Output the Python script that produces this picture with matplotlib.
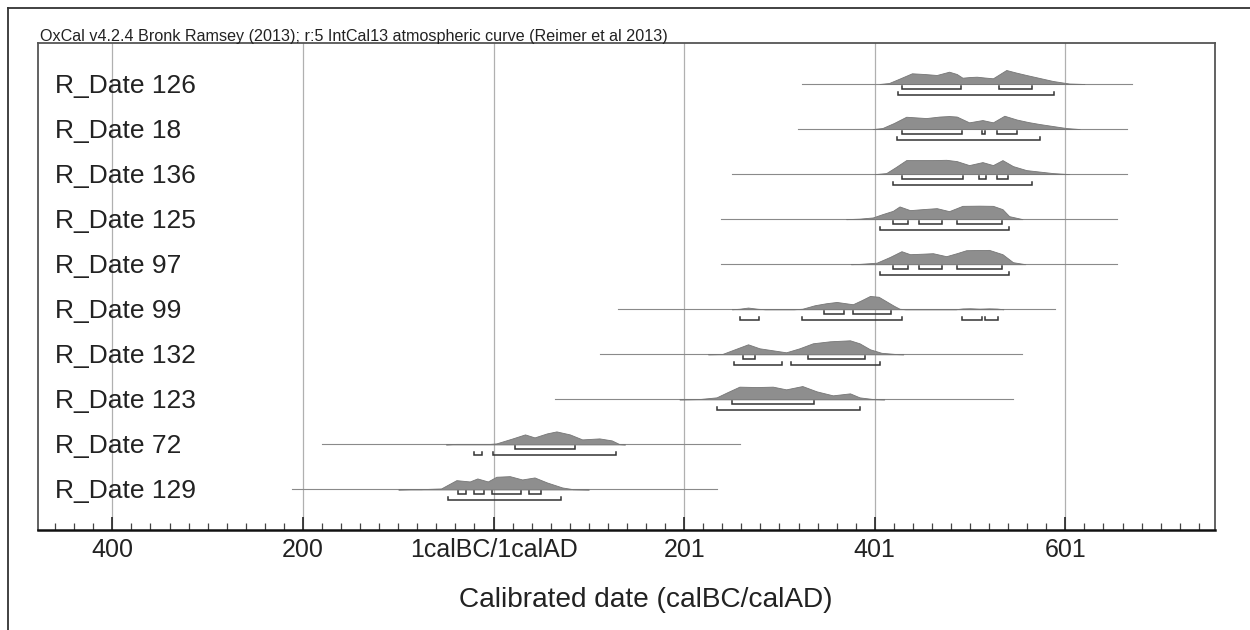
import numpy as np
import matplotlib
matplotlib.use("Agg")
import matplotlib.pyplot as plt
from matplotlib.lines import Line2D
import matplotlib.transforms as mtransforms

plt.rcParams['font.family'] = ['Liberation Sans', 'DejaVu Sans']

# ---------------- data ----------------
title = "OxCal v4.2.4 Bronk Ramsey (2013); r:5 IntCal13 atmospheric curve (Reimer et al 2013)"
xlabel = "Calibrated date (calBC/calAD)"
labels = ["R_Date 126", "R_Date 18", "R_Date 136", "R_Date 125", "R_Date 97",
          "R_Date 99", "R_Date 132", "R_Date 123", "R_Date 72", "R_Date 129"]

tick_values = [-400, -200, 0, 200, 400, 600]
tick_labels = ["400", "200", "1calBC/1calAD", "201", "401", "601"]

# plotted range (thin baseline) per date
range_lo = [324, 319, 250, 239, 239, 131, 112, 64, -180, -211]
range_hi = [670, 665, 665, 654, 654, 589, 554, 545, 259, 234]

# probability distributions (year, relative height)
curve_years = [
    [405, 415, 425, 439, 452, 465, 478, 486, 492, 500, 507, 515, 524, 538, 548, 559, 573, 587, 604, 620],
    [398, 408, 420, 433, 454, 468, 478, 486, 499, 513, 524, 536, 549, 561, 573, 601, 615],
    [400, 412, 422, 433, 461, 475, 486, 499, 513, 524, 534, 545, 559, 573, 587, 604],
    [370, 384, 398, 408, 419, 426, 437, 450, 465, 478, 492, 510, 524, 534, 541, 555],
    [375, 384, 402, 416, 428, 437, 450, 461, 475, 486, 496, 510, 520, 534, 545, 558],
    [250, 258, 267, 277, 285, 315, 324, 337, 349, 360, 377, 386, 395, 404, 412, 420, 426, 432,
     485, 492, 500, 510, 520, 528, 535],
    [225, 240, 255, 267, 279, 293, 307, 321, 335, 353, 374, 384, 395, 407, 423, 430],
    [195, 216, 234, 245, 258, 276, 293, 307, 324, 339, 356, 374, 384, 398, 410],
    [-50, -39, -4, 3, 20, 33, 43, 56, 66, 80, 93, 111, 124, 132, 138],
    [-100, -88, -76, -55, -39, -25, -17, -6, 3, 17, 30, 43, 56, 72, 83, 100],
]
curve_heights = [
    [0, 1, 5, 10.7, 10, 9, 12.3, 10, 6.3, 7, 7.3, 6.5, 5.7, 14, 11.5, 9, 6, 3, 0.5, 0],
    [0, 1, 6, 12.3, 11, 12.5, 13, 12.5, 6.7, 9, 6.7, 13.3, 9.5, 7, 5, 1, 0],
    [0, 1, 7, 14, 14, 14.3, 13, 9, 12, 9, 14, 8, 4, 2.5, 1, 0],
    [0, 0.5, 1.7, 5, 8.3, 12.7, 9, 10, 11, 8, 13.3, 13.5, 13.3, 10, 3, 0],
    [0, 0.3, 1.5, 7.3, 13, 10, 10.5, 11, 8, 11, 14, 14.2, 14.3, 10, 2, 0],
    [0, 0.5, 1.7, 0.5, 0, 0, 0.5, 4, 6, 7.3, 5, 9, 13.3, 12.5, 8, 3.5, 0.5, 0,
     0, 0.8, 1, 0.6, 0.9, 0.7, 0],
    [0, 0.3, 5.7, 10, 6, 4, 2, 6, 11, 13, 14, 11, 5, 1.5, 0.2, 0],
    [0, 0.3, 2, 7, 12.7, 12.3, 12.7, 10, 13.3, 8, 4, 6, 2, 0.3, 0],
    [0, 0.5, 0.5, 1, 6, 10, 7, 11, 13, 10, 5, 6, 4, 0.3, 0],
    [0, 0.3, 0.3, 1, 9.3, 8, 11, 8, 12.7, 13.3, 10, 12, 7, 2, 0.3, 0],
]

# highest posterior density ranges
sigma1 = [
    [(429, 490), (530, 565)],
    [(429, 492), (512, 516), (528, 549)],
    [(429, 493), (509, 517), (528, 540)],
    [(419, 435), (446, 471), (486, 534)],
    [(419, 435), (446, 471), (486, 534)],
    [(347, 368), (377, 417)],
    [(262, 274), (330, 390)],
    [(250, 336)],
    [(22, 85)],
    [(-37, -29), (-21, -10), (-2, 29), (37, 50)],
]
sigma2 = [
    [(424, 588)],
    [(423, 573)],
    [(419, 565)],
    [(405, 541)],
    [(405, 541)],
    [(259, 279), (324, 429), (492, 512), (516, 529)],
    [(252, 303), (312, 406)],
    [(234, 385)],
    [(-20, -12), (-1, 129)],
    [(-48, 71)],
]

# ---------------- layout ----------------
W, H = 1250, 630
fig = plt.figure(figsize=(W / 100, H / 100), dpi=100)
ax_l, ax_r, ax_t, ax_b = 38, 1215, 43, 530
ax = fig.add_axes([ax_l / W, 1 - ax_b / H, (ax_r - ax_l) / W, (ax_b - ax_t) / H])

row_px = 45.05
ax.set_xlim(-478, 757)
ax.set_ylim((ax_b - 84) / row_px, (ax_t - 84) / row_px)  # inverted: row 0 on top

hscale = 1.0 / row_px
off1 = 4.5 / row_px
off2 = 10.5 / row_px
tick = 3.0 / row_px

for v in tick_values:
    ax.axvline(v, color='#b0b0b0', lw=0.9, zorder=0)

for i in range(len(labels)):
    ax.plot([range_lo[i], range_hi[i]], [i, i], color='#8a8a8a', lw=0.8, zorder=2)
    xs = np.array(curve_years[i], dtype=float)
    hs = np.array(curve_heights[i], dtype=float)
    ax.fill_between(xs, i - hs * hscale, i, facecolor='#8e8e8e',
                    edgecolor='#767676', lw=0.6, zorder=3)
    for lo, hi in sigma1[i]:
        y = i + off1
        ax.plot([lo, lo, hi, hi], [y - tick, y, y, y - tick], color='#333333',
                lw=1.1, zorder=4, solid_joinstyle='miter')
    for lo, hi in sigma2[i]:
        y = i + off2
        ax.plot([lo, lo, hi, hi], [y - tick, y, y, y - tick], color='#333333',
                lw=1.1, zorder=4, solid_joinstyle='miter')

trans = mtransforms.blended_transform_factory(ax.transAxes, ax.transData)
for i, lab in enumerate(labels):
    ax.text((55 - ax_l) / (ax_r - ax_l), i + 9.0 / row_px, lab, transform=trans,
            ha='left', va='baseline', fontsize=19, color='#222222')

ax.set_yticks([])
ax.set_xticks(tick_values)
ax.set_xticklabels(tick_labels, fontsize=18, color='#222222')
ax.set_xticks(np.arange(-460, 757, 20), minor=True)
ax.tick_params(axis='x', which='major', direction='in', length=9.5, width=1.2,
               pad=6, color='#222222')
ax.tick_params(axis='x', which='minor', direction='in', length=5, width=0.9,
               color='#444444')

for s in ['left', 'right', 'top']:
    ax.spines[s].set_color('#555555')
    ax.spines[s].set_linewidth(1.3)
ax.spines['bottom'].set_color('#111111')
ax.spines['bottom'].set_linewidth(1.8)

fig.text(40 / W, 1 - 36 / H, title, ha='left', va='center', fontsize=11.6,
         color='#222222')
fig.text(646 / W, 1 - 600 / H, xlabel, ha='center', va='center', fontsize=20.2,
         color='#222222')

fig.add_artist(Line2D([8 / W, 8 / W], [0, 1 - 8 / H], color='#333333', lw=1.3))
fig.add_artist(Line2D([8 / W, 1], [1 - 8 / H, 1 - 8 / H], color='#333333', lw=1.3))

fig.savefig("out.png", dpi=100)
